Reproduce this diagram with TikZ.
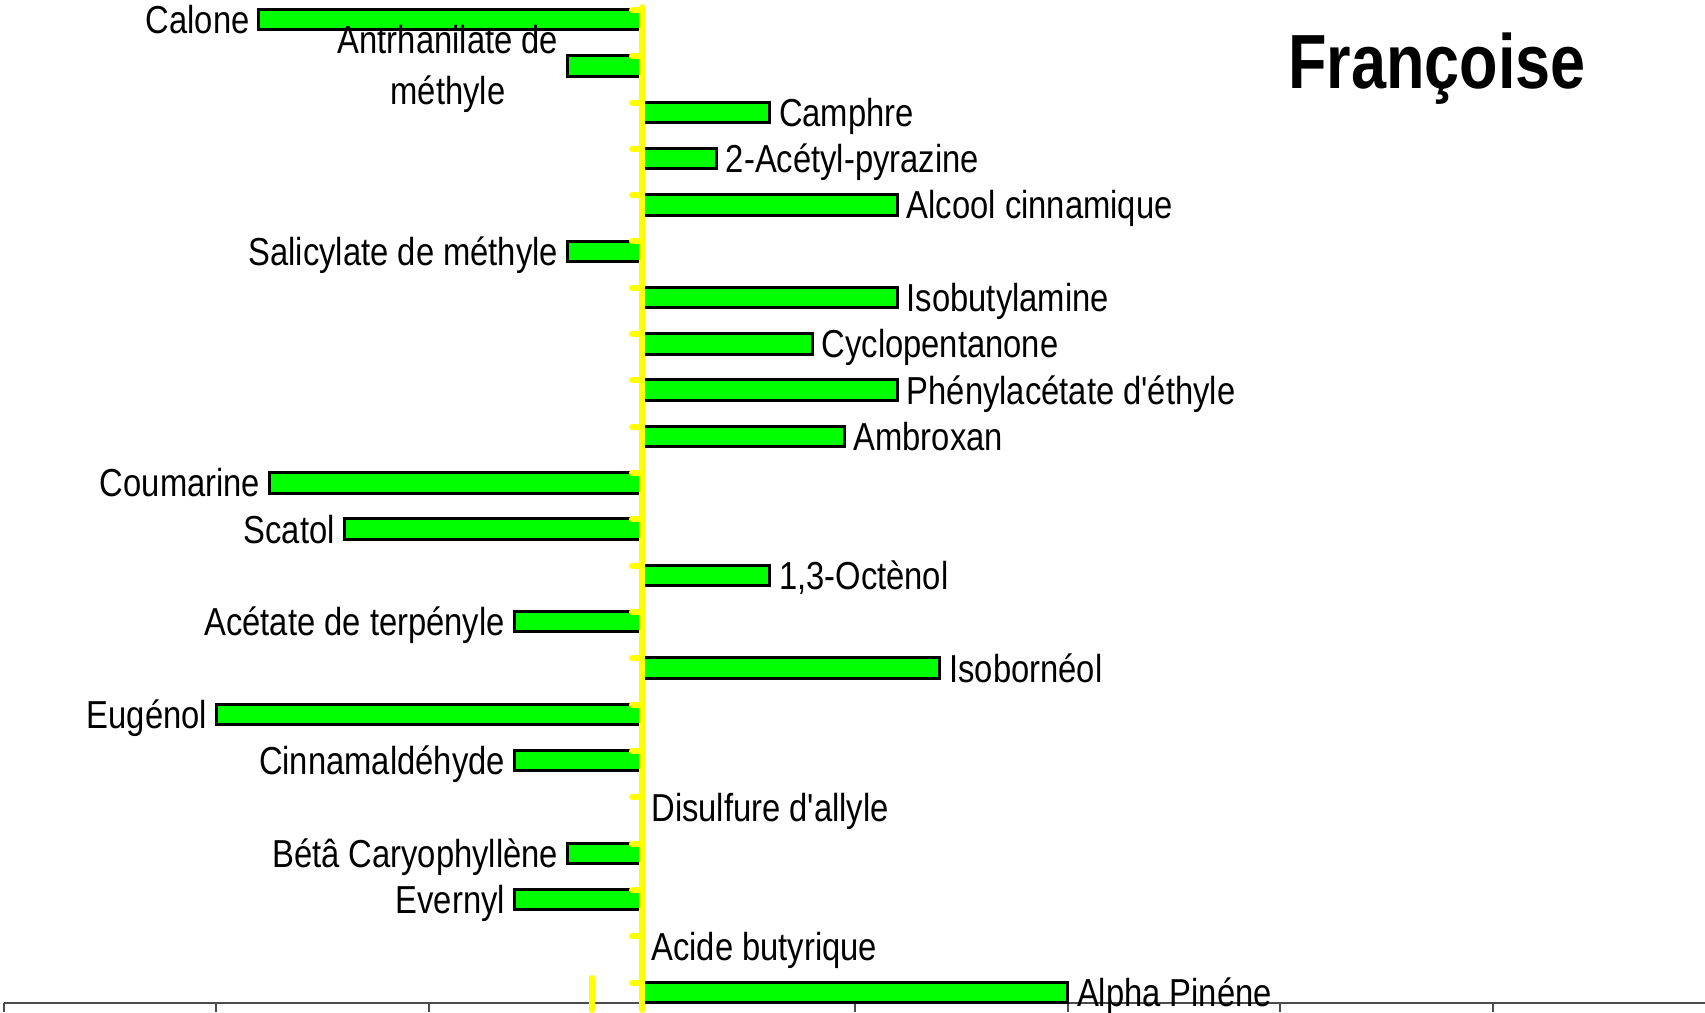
\documentclass[tikz,border=0pt]{standalone}
\usepackage{fontspec}
\setmainfont{Liberation Sans}[FakeStretch=0.84,Ligatures=TeXOff]
\newfontfamily\titlefont{Liberation Sans}[FakeStretch=0.82]
\usetikzlibrary{positioning}
\definecolor{BarGreen}{RGB}{0,255,0}
\definecolor{AxisYellow}{RGB}{255,255,0}
\newcommand\chartfont{\fontsize{19.5pt}{25.5pt}\selectfont}
\tikzset{
  bar/.style={draw=black,fill=BarGreen,line width=1.5pt},
  lab/.style={inner sep=0pt,font=\chartfont},
  lft/.style={lab,anchor=base east,xshift=-4.5pt,yshift=-7pt},
  rgt/.style={lab,anchor=base west,xshift=4.5pt,yshift=-7pt},
  zero/.style={draw=AxisYellow,line width=3pt,line cap=round},
  axis/.style={draw=black!70,line width=1pt}
}

\begin{document}
\begin{tikzpicture}[x=106.4pt,y=-23.16pt]
      \useasboundingbox (-3.0169,-0.4231) rectangle (4.9953,21.446);
      % bottom axis
      \draw[axis] (-3.0,21.23) -- (4.9953,21.23);
      \foreach \k in {-3,...,4}
        \draw[axis] (\k,21.23) -- (\k,21.43);
      % bars
      \draw[bar] (0,-0.22) rectangle (-1.8,0.22);
      \draw[bar] (0,0.78) rectangle (-0.35,1.22);
      \draw[bar] (0,1.78) rectangle (0.6,2.22);
      \draw[bar] (0,2.78) rectangle (0.35,3.22);
      \draw[bar] (0,3.78) rectangle (1.2,4.22);
      \draw[bar] (0,4.78) rectangle (-0.35,5.22);
      \draw[bar] (0,5.78) rectangle (1.2,6.22);
      \draw[bar] (0,6.78) rectangle (0.8,7.22);
      \draw[bar] (0,7.78) rectangle (1.2,8.22);
      \draw[bar] (0,8.78) rectangle (0.95,9.22);
      \draw[bar] (0,9.78) rectangle (-1.75,10.22);
      \draw[bar] (0,10.78) rectangle (-1.4,11.22);
      \draw[bar] (0,11.78) rectangle (0.6,12.22);
      \draw[bar] (0,12.78) rectangle (-0.6,13.22);
      \draw[bar] (0,13.78) rectangle (1.4,14.22);
      \draw[bar] (0,14.78) rectangle (-2,15.22);
      \draw[bar] (0,15.78) rectangle (-0.6,16.22);
      \draw[bar] (0,17.78) rectangle (-0.35,18.22);
      \draw[bar] (0,18.78) rectangle (-0.6,19.22);
      \draw[bar] (0,20.78) rectangle (2,21.22);
      % labels
      \node[lft] (calone) at (-1.8,0) {Calone};
      \node[lab,anchor=east,align=center,xshift=-4.5pt,yshift=-1.5pt] (anthra) at (-0.35,1) {Antrhanilate de\\méthyle};
      \node[rgt] (camphre) at (0.6,2) {Camphre};
      \node[rgt] (pyrazine) at (0.35,3) {2-Acétyl-pyrazine};
      \node[rgt] (alcool) at (1.2,4) {Alcool cinnamique};
      \node[lft] (salicyl) at (-0.35,5) {Salicylate de méthyle};
      \node[rgt] (isobutyl) at (1.2,6) {Isobutylamine};
      \node[rgt] (cyclopent) at (0.8,7) {Cyclopentanone};
      \node[rgt] (phenylac) at (1.2,8) {Phénylacétate d'éthyle};
      \node[rgt] (ambroxan) at (0.95,9) {Ambroxan};
      \node[lft] (coumarine) at (-1.75,10) {Coumarine};
      \node[lft] (scatol) at (-1.4,11) {Scatol};
      \node[rgt] (octenol) at (0.6,12) {1,3-Octènol};
      \node[lft] (terpenyl) at (-0.6,13) {Acétate de terpényle};
      \node[rgt] (isoborneol) at (1.4,14) {Isobornéol};
      \node[lft] (eugenol) at (-2,15) {Eugénol};
      \node[lft] (cinnamal) at (-0.6,16) {Cinnamaldéhyde};
      \node[rgt] (disulfure) at (0,17) {Disulfure d'allyle};
      \node[lft] (caryo) at (-0.35,18) {Bétâ Caryophyllène};
      \node[lft] (evernyl) at (-0.6,19) {Evernyl};
      \node[rgt] (butyrique) at (0,20) {Acide butyrique};
      \node[rgt] (pinene) at (2,21) {Alpha Pinéne};
      % yellow zero line
      \foreach \i in {0,...,21}
        \draw[zero] (-0.047,\i-0.21) -- (0,\i-0.21);
      \draw[zero] (0,-0.27) -- (0,21.38);
      \draw[zero] (-0.235,20.69) -- (-0.235,21.38);
      \node[anchor=base west,inner sep=0pt,font=\titlefont\bfseries\fontsize{38.4pt}{40pt}\selectfont] (titre) at (3.036,1.477) {Françoise};
\end{tikzpicture}
\end{document}
